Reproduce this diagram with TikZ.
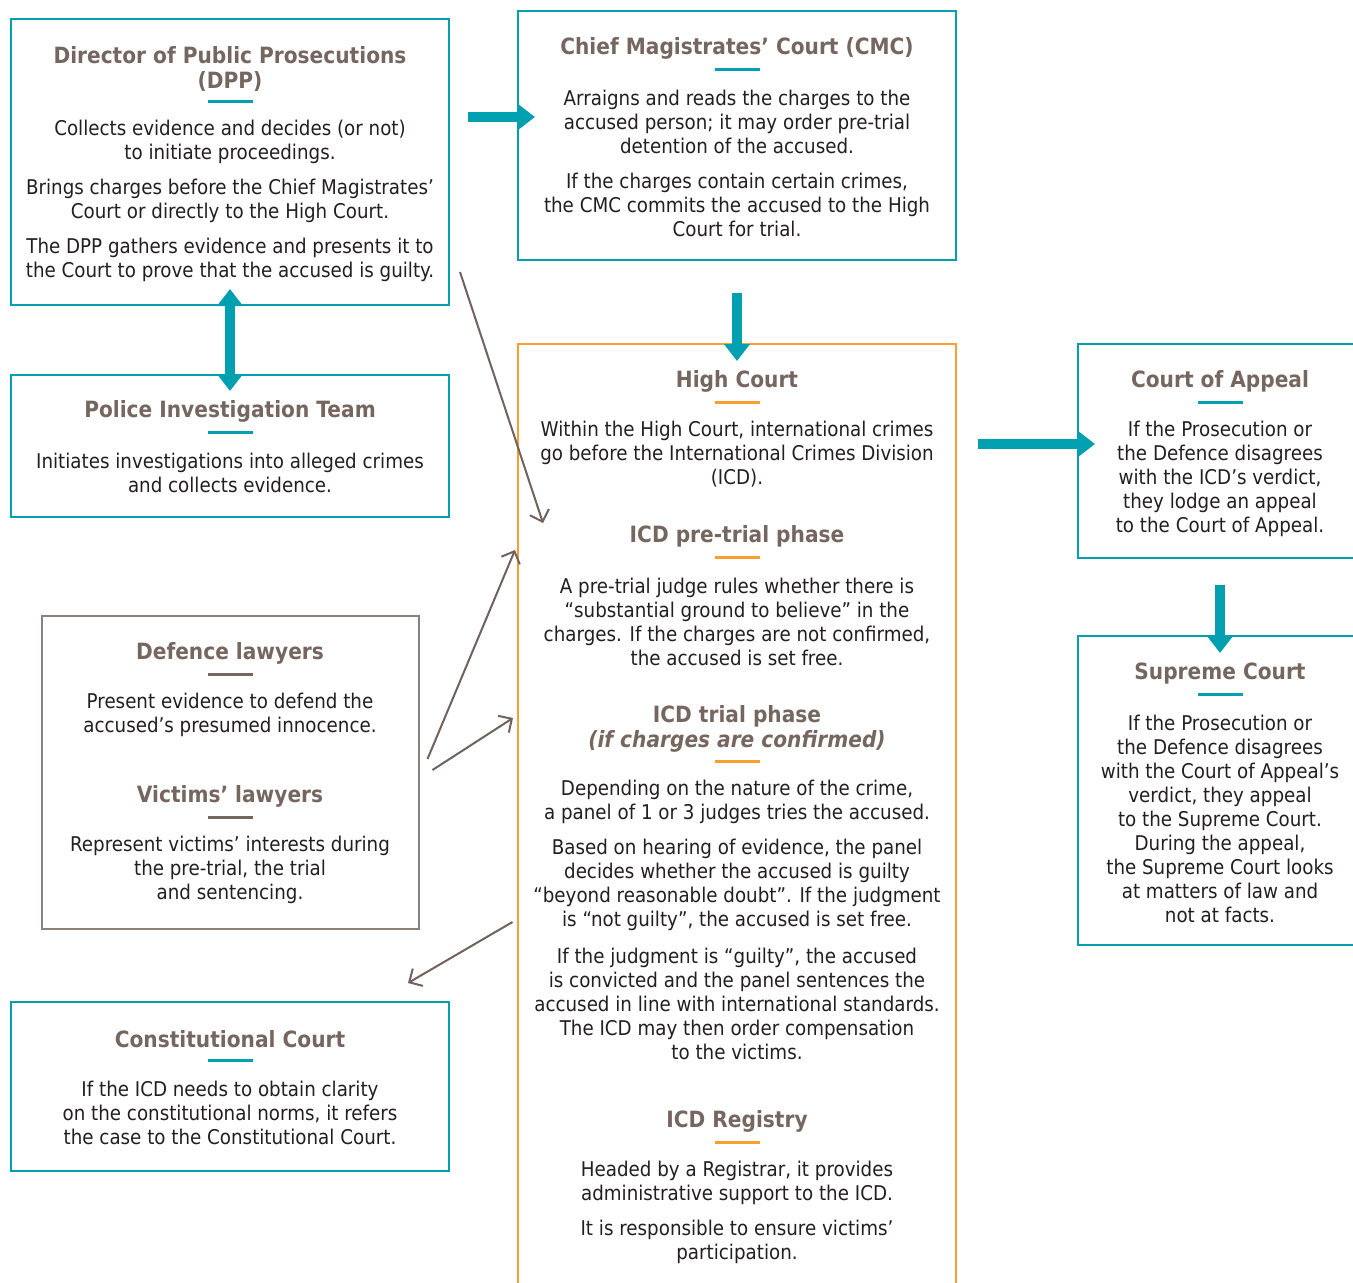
\documentclass[tikz,border=0pt]{standalone}
\usepackage{fontspec}
\setmainfont{DejaVu Sans}[FakeStretch=0.9]
\usetikzlibrary{arrows.meta}
\definecolor{tealc}{RGB}{0,160,176}
\definecolor{orng}{RGB}{247,160,48}
\definecolor{ttl}{RGB}{118,102,96}
\definecolor{txt}{RGB}{35,31,32}
\definecolor{brn}{RGB}{140,128,124}
\definecolor{arr}{RGB}{112,98,93}
\tikzset{
  boxbase/.style={line width=1.3pt, inner sep=0pt, outer sep=0pt},
  tealbox/.style={boxbase, draw=tealc},
  orangebox/.style={boxbase, draw=orng},
  brownbox/.style={boxbase, draw=brn},
  ttlnode/.style={font=\bfseries\fontsize{22.4}{25}\selectfont, text=ttl, align=center, inner sep=0pt, yshift=-2.5pt},
  bodynode/.style={font=\fontsize{20.3}{24}\selectfont, text=txt, align=center, inner sep=0pt, yshift=-2.5pt},
  bartl/.style={draw=tealc, line width=3pt},
  baror/.style={draw=orng, line width=3pt},
  barbr/.style={draw=ttl, line width=3pt},
  bigarrow/.style={draw=tealc, line width=9.5pt, -{Triangle[width=25pt,length=17pt]}},
  bigdouble/.style={draw=tealc, line width=9.5pt, {Triangle[width=25pt,length=17pt]}-{Triangle[width=25pt,length=17pt]}},
  thinarrow/.style={draw=arr, line width=2pt, -{Straight Barb[length=10pt,width=20pt]}},
}
\begin{document}
\begin{tikzpicture}[x=1pt,y=-1pt]
\clip (0,0) rectangle (1353,1283);
\fill[white] (0,0) rectangle (1353,1283);

% ---------- boxes ----------
\node[tealbox, minimum width=438pt, minimum height=286pt] (dpp) at (230,162) {};
\node[tealbox, minimum width=438pt, minimum height=249pt] (cmc) at (737,135.5) {};
\node[tealbox, minimum width=438pt, minimum height=142pt] (pol) at (230,446) {};
\node[brownbox, minimum width=377pt, minimum height=313pt] (def) at (230.5,772.5) {};
\node[tealbox, minimum width=438pt, minimum height=169pt] (con) at (230,1086.5) {};
\node[orangebox, minimum width=438pt, minimum height=980pt] (hc) at (737,834) {};
\node[tealbox, minimum width=284pt, minimum height=214pt] (coa) at (1220,451) {};
\node[tealbox, minimum width=284pt, minimum height=309pt] (sc) at (1220,790.5) {};

% ---------- DPP ----------
\node[ttlnode] (dppt) at (230,66.5) {Director of Public Prosecutions\\(DPP)};
\draw[bartl] (207.5,101) -- (252.5,101);
\node[bodynode] (dpp1) at (230,139) {Collects evidence and decides (or not)\\to initiate proceedings.};
\node[bodynode] (dpp2) at (230,198) {Brings charges before the Chief Magistrates’\\Court or directly to the High Court.};
\node[bodynode] (dpp3) at (230,257) {The DPP gathers evidence and presents it to\\the Court to prove that the accused is guilty.};

% ---------- CMC ----------
\node[ttlnode] (cmct) at (737,46) {Chief Magistrates’ Court (CMC)};
\draw[bartl] (714.5,69) -- (759.5,69);
\node[bodynode] (cmc1) at (737,119) {Arraigns and reads the charges to the\\accused person; it may order pre-trial\\detention of the accused.};
\node[bodynode] (cmc2) at (737,202) {If the charges contain certain crimes,\\the CMC commits the accused to the High\\Court for trial.};

% ---------- Police ----------
\node[ttlnode] (polt) at (230,409) {Police Investigation Team};
\draw[bartl] (207.5,432) -- (252.5,432);
\node[bodynode] (pol1) at (230,470) {Initiates investigations into alleged crimes\\and collects evidence.};

% ---------- Defence / Victims ----------
\node[ttlnode] (deft) at (230,651) {Defence lawyers};
\draw[barbr] (207.5,674) -- (252.5,674);
\node[bodynode] (def1) at (230,712) {Present evidence to defend the\\accused’s presumed innocence.};
\node[ttlnode] (vict) at (230,794) {Victims’ lawyers};
\draw[barbr] (207.5,817) -- (252.5,817);
\node[bodynode] (vic1) at (230,867) {Represent victims’ interests during\\the pre-trial, the trial\\and sentencing.};

% ---------- Constitutional ----------
\node[ttlnode] (cont) at (230,1037) {Constitutional Court};
\draw[bartl] (207.5,1060) -- (252.5,1060);
\node[bodynode] (con1) at (230,1110) {If the ICD needs to obtain clarity\\on the constitutional norms, it refers\\the case to the Constitutional Court.};

% ---------- High Court ----------
\node[ttlnode] (hct) at (737,379) {High Court};
\draw[baror] (714.5,402) -- (759.5,402);
\node[bodynode] (hc1) at (737,452) {Within the High Court, international crimes\\go before the International Crimes Division\\(ICD).};
\node[ttlnode] (pret) at (737,534) {ICD pre-trial phase};
\draw[baror] (714.5,557) -- (759.5,557);
\node[bodynode] (pre1) at (737,619) {A pre-trial judge rules whether there is\\“substantial ground to believe” in the\\charges. If the charges are not confirmed,\\the accused is set free.};
\node[ttlnode] (trit) at (737,726.5) {ICD trial phase\\\textit{(if charges are confirmed)}};
\draw[baror] (714.5,761) -- (759.5,761);
\node[bodynode] (tri1) at (737,799) {Depending on the nature of the crime,\\a panel of 1 or 3 judges tries the accused.};
\node[bodynode] (tri2) at (737,882) {Based on hearing of evidence, the panel\\decides whether the accused is guilty\\“beyond reasonable doubt”. If the judgment\\is “not guilty”, the accused is set free.};
\node[bodynode] (tri3) at (737,1001) {If the judgment is “guilty”, the accused\\is convicted and the panel sentences the\\accused in line with international standards.\\The ICD may then order compensation\\to the victims.};
\node[ttlnode] (regt) at (737,1119) {ICD Registry};
\draw[baror] (714.5,1142) -- (759.5,1142);
\node[bodynode] (reg1) at (737,1180) {Headed by a Registrar, it provides\\administrative support to the ICD.};
\node[bodynode] (reg2) at (737,1239) {It is responsible to ensure victims’\\participation.};

% ---------- Court of Appeal ----------
\node[ttlnode] (coat) at (1220,379) {Court of Appeal};
\draw[bartl] (1197.5,402) -- (1242.5,402);
\node[bodynode] (coa1) at (1220,476) {If the Prosecution or\\the Defence disagrees\\with the ICD’s verdict,\\they lodge an appeal\\to the Court of Appeal.};

% ---------- Supreme Court ----------
\node[ttlnode] (sct) at (1220,671) {Supreme Court};
\draw[bartl] (1197.5,694) -- (1242.5,694);
\node[bodynode] (sc1) at (1220,816) {If the Prosecution or\\the Defence disagrees\\with the Court of Appeal’s\\verdict, they appeal\\to the Supreme Court.\\During the appeal,\\the Supreme Court looks\\at matters of law and\\not at facts.};

% ---------- thick arrows ----------
\coordinate (a1s) at (468,117);  \coordinate (a1e) at (535,117);
\coordinate (a2s) at (737,293);  \coordinate (a2e) at (737,361);
\coordinate (a3s) at (230,289);  \coordinate (a3e) at (230,391);
\coordinate (a4s) at (978,444);  \coordinate (a4e) at (1095,444);
\coordinate (a5s) at (1220,585); \coordinate (a5e) at (1220,653);
\draw[bigarrow] (a1s) -- (a1e);
\draw[bigarrow] (a2s) -- (a2e);
\draw[bigdouble] (a3s) -- (a3e);
\draw[bigarrow] (a4s) -- (a4e);
\draw[bigarrow] (a5s) -- (a5e);

% ---------- thin arrows ----------
\coordinate (b1s) at (460,272);   \coordinate (b1e) at (543,523);
\coordinate (b2s) at (427.5,759); \coordinate (b2e) at (515,550);
\coordinate (b3s) at (432.5,770); \coordinate (b3e) at (513,718);
\coordinate (b4s) at (512.5,922); \coordinate (b4e) at (408,983);
\draw[thinarrow] (b1s) -- (b1e);
\draw[thinarrow] (b2s) -- (b2e);
\draw[thinarrow] (b3s) -- (b3e);
\draw[thinarrow] (b4s) -- (b4e);
\end{tikzpicture}
\end{document}
